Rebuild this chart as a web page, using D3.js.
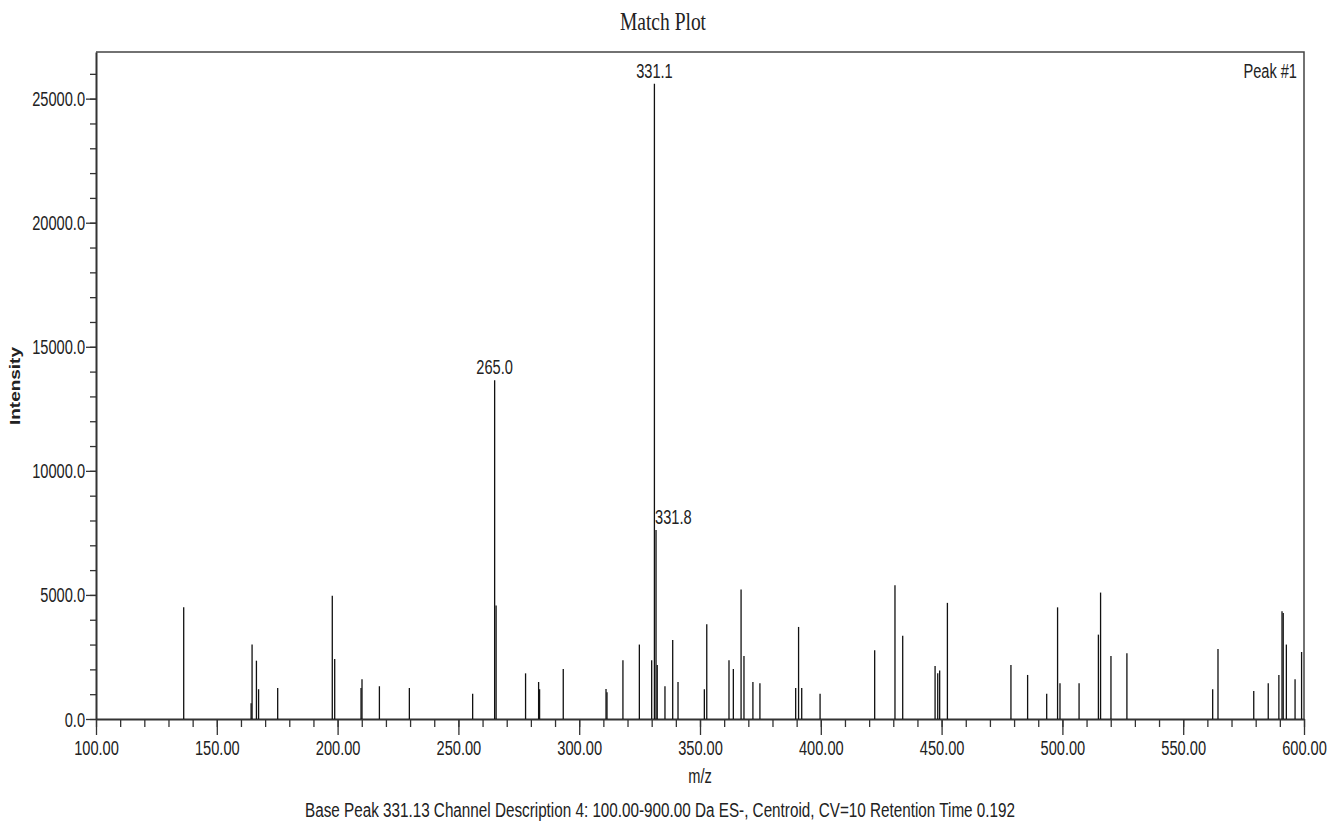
<!DOCTYPE html>
<html>
<head>
<meta charset="utf-8">
<script src="https://cdn.jsdelivr.net/npm/d3@7"></script>
<style>
  body { margin: 0; background: #fff; }
  svg { display: block; }
  text { font-family: "Liberation Sans", Arial, sans-serif; fill: #222; }
</style>
</head>
<body>
<div id="chart"></div>
<script>
// peak list (m/z, intensity)
const mz = [
  136.3, 164.2, 164.6, 166.4, 167.3, 175.2, 197.8, 198.8, 209.7, 210.1, 217.3,
  229.7, 255.9, 265.0, 265.6, 277.8, 283.2, 283.6, 293.4, 311.1, 311.5, 318.1,
  324.9, 330.0, 331.13, 331.8, 332.3, 335.5, 338.7, 340.9, 351.8, 352.8,
  362.0, 363.8, 367.0, 368.2, 371.9, 374.8, 389.6, 390.8, 392.1, 399.7,
  422.3, 430.7, 433.9, 447.3, 448.4, 449.2, 452.4,
  478.7, 485.6, 493.5, 498.0, 499.0, 506.9, 514.9, 515.8, 520.1, 526.7,
  562.2, 564.4, 579.2, 585.2, 589.6, 590.9, 591.4, 592.7, 596.3, 599.0
];
const intensity = [
  4500, 630, 3000, 2350, 1200, 1250, 4970, 2420, 1250, 1600, 1320,
  1250, 1020, 13650, 4570, 1840, 1490, 1200, 2020, 1210, 1080, 2370,
  3000, 2370, 25600, 7620, 2180, 1320, 3185, 1495, 1200, 3820,
  2370, 2020, 5215, 2540, 1490, 1440, 1250, 3710, 1250, 1020,
  2770, 5390, 3350, 2140, 1840, 1950, 4680,
  2180, 1775, 1020, 4500, 1440, 1440, 3400, 5095, 2540, 2650,
  1200, 2820, 1130, 1440, 1775, 4340, 4275, 3000, 1600, 2700
];

// labelled peaks
const labelMz = [331.13, 265.0, 331.8];
const labelText = ["331.1", "265.0", "331.8"];
const labelAnchor = ["middle", "middle", "start"];

const xMajor = d3.range(100, 601, 50);
const xMinor = d3.range(100, 601, 10);
const yMajor = d3.range(0, 25001, 5000);
const yMinor = d3.range(0, 26001, 1000);

const title = "Match Plot";
const caption = "Base Peak 331.13 Channel Description 4: 100.00-900.00 Da ES-, Centroid, CV=10 Retention Time 0.192";

const width = 1344, height = 825,
  plotL = 96, plotR = 1304, plotT = 52, plotB = 719,
  sx = 0.75; // the picture is squeezed horizontally

const svg = d3.select('#chart').append('svg')
  .attr('width', width)
  .attr('height', height);

const x = d3.scaleLinear().domain([100, 600]).range([plotL, plotR]);
const y = d3.scaleLinear().domain([0, 26880]).range([plotB, plotT]);

// frame (top + right)
svg.append('path')
  .attr('d', `M${plotL},${plotT}H${plotR}V${plotB}`)
  .attr('fill', 'none')
  .attr('stroke', '#444')
  .attr('stroke-width', 1.5);

// x axis: minor ticks then majors with labels
const gxMinor = svg.append('g')
  .attr('transform', `translate(0,${plotB})`)
  .call(d3.axisBottom(x).tickValues(xMinor).tickSize(8).tickSizeOuter(0).tickFormat(''));
gxMinor.select('.domain').remove();

const gx = svg.append('g')
  .attr('transform', `translate(0,${plotB})`)
  .call(d3.axisBottom(x).tickValues(xMajor).tickSize(16).tickSizeOuter(0).tickFormat(d3.format('.2f')));

gx.selectAll('text')
  .attr('y', 36)
  .attr('dy', null)
  .attr('transform', `scale(${sx},1)`)
  .style('font-size', '19.5px');

// y axis
const gyMinor = svg.append('g')
  .attr('transform', `translate(${plotL},0)`)
  .call(d3.axisLeft(y).tickValues(yMinor).tickSize(6).tickSizeOuter(0).tickFormat(''));
gyMinor.select('.domain').remove();

const gy = svg.append('g')
  .attr('transform', `translate(${plotL},0)`)
  .call(d3.axisLeft(y).tickValues(yMajor).tickSize(10).tickSizeOuter(0).tickFormat(d3.format('.1f')));

gy.selectAll('text')
  .attr('x', -11 / sx)
  .attr('dy', null)
  .attr('y', 7)
  .attr('transform', `scale(${sx},1)`)
  .style('font-size', '19.5px');

svg.selectAll('.tick line').attr('stroke', '#333').attr('stroke-width', 1.3);
svg.selectAll('.domain').attr('stroke', '#333').attr('stroke-width', 2);

// peaks
const peaks = mz.map((m, i) => ({ mz: m, v: intensity[i] }));

svg.append('g')
  .selectAll('line')
  .data(peaks)
  .enter()
  .append('line')
  .attr('x1', d => x(d.mz))
  .attr('x2', d => x(d.mz))
  .attr('y1', y(0))
  .attr('y2', d => y(d.v))
  .attr('stroke', '#111')
  .attr('stroke-width', 1.3);

// peak labels
labelMz.forEach((m, i) => {
  const v = intensity[mz.indexOf(m)];
  svg.append('text')
    .attr('transform', `translate(${x(m) - (labelAnchor[i] === 'start' ? 1 : 0)},${y(v) - 6}) scale(${sx},1)`)
    .attr('text-anchor', labelAnchor[i])
    .style('font-size', '19.5px')
    .text(labelText[i]);
});

svg.append('text')
  .attr('transform', `translate(1297,78) scale(${sx},1)`)
  .attr('text-anchor', 'end')
  .style('font-size', '19.5px')
  .text('Peak #1');

// titles
svg.append('text')
  .attr('transform', `translate(663,30) scale(${sx},1)`)
  .attr('text-anchor', 'middle')
  .style('font-family', '"Liberation Serif", "Times New Roman", serif')
  .style('font-size', '26px')
  .text(title);

svg.append('text')
  .attr('transform', `translate(700,783) scale(${sx},1)`)
  .attr('text-anchor', 'middle')
  .style('font-size', '19.5px')
  .text('m/z');

svg.append('text')
  .attr('transform', 'translate(20,386) rotate(-90)')
  .attr('text-anchor', 'middle')
  .attr('textLength', 78)
  .attr('lengthAdjust', 'spacingAndGlyphs')
  .style('font-size', '14px')
  .style('font-weight', 'bold')
  .text('Intensity');

svg.append('text')
  .attr('x', 305)
  .attr('y', 817)
  .attr('textLength', 710)
  .attr('lengthAdjust', 'spacingAndGlyphs')
  .style('font-size', '19.5px')
  .text(caption);
</script>
</body>
</html>
